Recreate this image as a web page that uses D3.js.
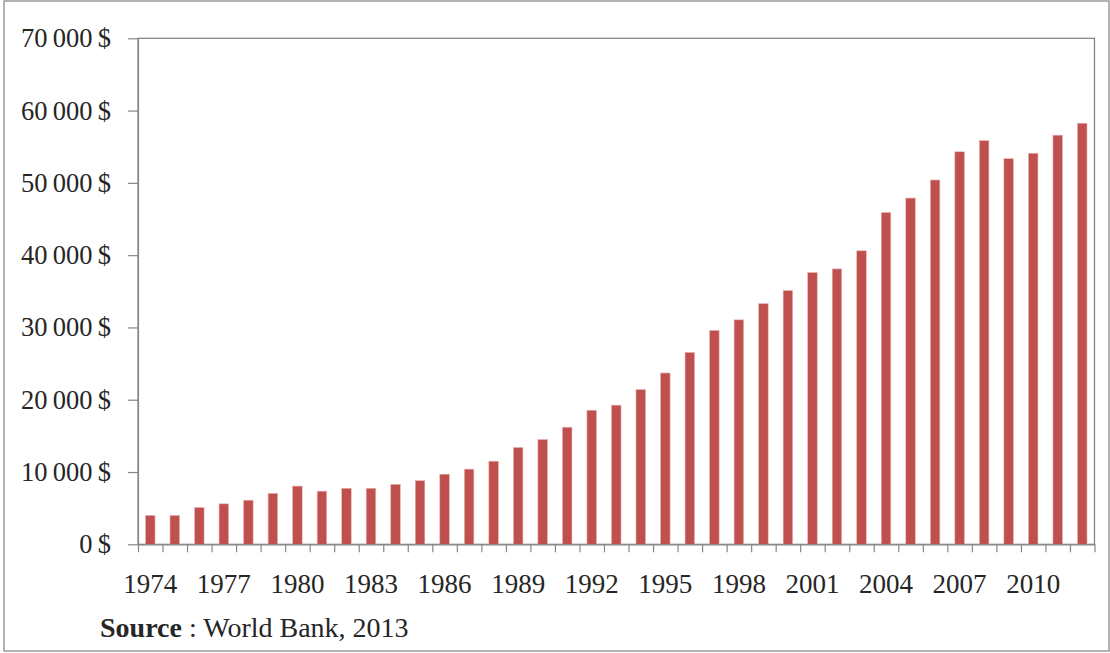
<!DOCTYPE html>
<html>
<head>
<meta charset="utf-8">
<script src="https://cdn.jsdelivr.net/npm/d3@7"></script>
<style>
  html, body { margin: 0; padding: 0; background: #fff; }
  svg { display: block; }
  text { font-family: "Liberation Serif", "Times New Roman", serif; }
</style>
</head>
<body>
<svg id="chart" width="1110" height="653"></svg>
<script>
// ---- data ----
const years = [1974,1975,1976,1977,1978,1979,1980,1981,1982,1983,1984,1985,1986,1987,1988,1989,1990,1991,1992,1993,1994,1995,1996,1997,1998,1999,2000,2001,2002,2003,2004,2005,2006,2007,2008,2009,2010,2011,2012];
const values = [4000,4000,5100,5600,6100,7050,8050,7350,7750,7750,8300,8800,9700,10400,11500,13400,14500,16200,18550,19250,21400,23700,26550,29600,31050,33300,35100,37600,38100,40600,45900,47900,50400,54300,55850,53350,54100,56600,58250];
const yTicks = [0,10000,20000,30000,40000,50000,60000,70000];
const xLabelYears = [1974,1977,1980,1983,1986,1989,1992,1995,1998,2001,2004,2007,2010];
const sourceBold = "Source";
const sourceRest = " : World Bank, 2013";

// ---- layout ----
const svg = d3.select("#chart");
const plot = { left: 138, right: 1094.5, top: 38.3, bottom: 544.3 };

// outer frame
svg.append("rect")
  .attr("x", 4).attr("y", 1)
  .attr("width", 1105).attr("height", 650)
  .attr("fill", "#fff")
  .attr("stroke", "#9a9a9a").attr("stroke-width", 1.5);

const x = d3.scaleBand().domain(years).range([plot.left, plot.right]).padding(0);
const xIdx = d3.scaleLinear().domain([0, years.length]).range([plot.left, plot.right]);
const y = d3.scaleLinear().domain([0, 70000]).range([plot.bottom, plot.top]);

// plot area border (top & right)
svg.append("rect")
  .attr("x", plot.left).attr("y", plot.top)
  .attr("width", plot.right - plot.left).attr("height", plot.bottom - plot.top)
  .attr("fill", "none")
  .attr("stroke", "#7f7f7f").attr("stroke-width", 1.2);

// bars
const barFrac = 0.39;
svg.append("g").selectAll("rect")
  .data(years)
  .join("rect")
  .attr("x", (d) => x(d) + x.bandwidth() * (1 - barFrac) / 2)
  .attr("width", x.bandwidth() * barFrac)
  .attr("y", (d, i) => y(values[i]))
  .attr("height", (d, i) => y(0) - y(values[i]))
  .attr("fill", "#C0504D")
  .attr("stroke", "#e8b7b6").attr("stroke-width", 0.6);

// y axis
const fmt = (v) => d3.format(",")(v).replace(/,/g, "\u2009") + "\u2009$";
const yAxis = svg.append("g")
  .attr("transform", `translate(${plot.left},0)`)
  .call(d3.axisLeft(y).tickValues(yTicks).tickFormat(fmt).tickSize(10).tickPadding(17).tickSizeOuter(0));
yAxis.select(".domain").attr("stroke", "#868686").attr("stroke-width", 1.2);
yAxis.selectAll(".tick line").attr("stroke", "#868686").attr("stroke-width", 1.2);
yAxis.selectAll("text")
  .attr("font-size", "26.5px")
  .attr("fill", "#262626")
  .attr("font-family", "Liberation Serif, Times New Roman, serif");

// x axis ticks at band boundaries
const xTickAxis = svg.append("g")
  .attr("transform", `translate(0,${plot.bottom})`)
  .call(d3.axisBottom(xIdx).tickValues(d3.range(0, years.length + 1)).tickSize(8).tickFormat("").tickSizeOuter(0));
xTickAxis.select(".domain").attr("stroke", "#868686").attr("stroke-width", 1.2);
xTickAxis.selectAll(".tick line").attr("stroke", "#868686").attr("stroke-width", 1.2);

// x axis labels at band centers
const xLab = svg.append("g")
  .attr("transform", `translate(0,${plot.bottom})`)
  .call(d3.axisBottom(x).tickValues(xLabelYears).tickSize(0).tickSizeOuter(0));
xLab.select(".domain").remove();
xLab.selectAll("text")
  .attr("y", 48.9).attr("dy", 0)
  .attr("font-size", "27px")
  .attr("fill", "#262626")
  .attr("font-family", "Liberation Serif, Times New Roman, serif");

// source
const src = svg.append("text")
  .attr("x", 100).attr("y", 636.5)
  .attr("font-size", "28px")
  .attr("fill", "#262626");
src.append("tspan").attr("font-weight", "bold").text(sourceBold);
src.append("tspan").text(sourceRest);
</script>
</body>
</html>
